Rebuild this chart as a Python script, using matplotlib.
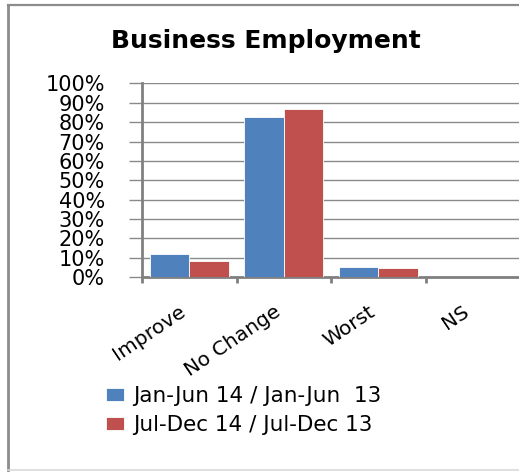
import matplotlib
matplotlib.use("Agg")
import matplotlib.pyplot as plt
import numpy as np
from matplotlib.lines import Line2D
from matplotlib.ticker import FuncFormatter

categories = ["Improve", "No Change", "Worst", "NS"]
series_names = ["Jan-Jun 14 / Jan-Jun  13", "Jul-Dec 14 / Jul-Dec 13"]
jan_jun = [0.12, 0.825, 0.052, 0.0]
jul_dec = [0.085, 0.867, 0.045, 0.0]
colors = ["#4F81BD", "#C0504D"]
yticks = [i / 10 for i in range(11)]

W, H = 519, 472
PX = 72 / 100  # points per pixel
fig = plt.figure(figsize=(W / 100, H / 100), dpi=100)
fig.patch.set_facecolor("white")

# outer chart frame (left, top, bottom)
fig.lines.append(Line2D([8 / W, 8 / W], [2 / H, 1 - 5 / H], transform=fig.transFigure,
                        color="#8c8c8c", linewidth=2.0))
fig.lines.append(Line2D([8 / W, 1.0], [1 - 5 / H, 1 - 5 / H], transform=fig.transFigure,
                        color="#8c8c8c", linewidth=1.6))
fig.lines.append(Line2D([8 / W, 1.0], [2 / H, 2 / H], transform=fig.transFigure,
                        color="#d9d9d9", linewidth=1.2))

ax = fig.add_axes([142 / W, 1 - 277 / H, 378 / W, (277 - 83.5) / H])
x = np.arange(len(categories))
bw = 0.42
ax.bar(x - bw / 2, jan_jun, bw, color=colors[0], edgecolor="white", linewidth=0.6,
       label=series_names[0], zorder=3)
ax.bar(x + bw / 2, jul_dec, bw, color=colors[1], edgecolor="white", linewidth=0.6,
       label=series_names[1], zorder=3)

ax.set_xlim(-0.5, len(categories) - 0.5)
ax.set_ylim(0, 1)
ax.set_yticks(yticks)
ax.yaxis.set_major_formatter(FuncFormatter(lambda v, p: f"{v * 100:.0f}%"))
ax.yaxis.grid(True, color="#8a8a8a", linewidth=1.0, zorder=0)
ax.set_axisbelow(True)

# category boundary ticks
ax.set_xticks(np.arange(len(categories) + 1) - 0.5, minor=False)
ax.set_xticklabels([])
ax.tick_params(axis="x", which="major", length=6 * PX, width=2, color="#808080", direction="out")
ax.set_xticks(x, minor=True)
ax.set_xticklabels(categories, minor=True, rotation=34, ha="right", va="top",
                   rotation_mode="default", fontsize=14.5, family="DejaVu Sans")
ax.tick_params(axis="x", which="minor", length=0, pad=25 * PX)

ax.tick_params(axis="y", length=13 * PX, width=1, color="#8a8a8a", labelsize=15, pad=24 * PX)
for lab in ax.get_yticklabels():
    lab.set_family("DejaVu Sans")

for s in ["top", "right"]:
    ax.spines[s].set_visible(False)
ax.spines["left"].set_color("#808080")
ax.spines["left"].set_linewidth(2)
ax.spines["bottom"].set_color("#808080")
ax.spines["bottom"].set_linewidth(2)

fig.text(266 / W, 1 - 41 / H, "Business Employment", ha="center", va="center",
         fontsize=18, fontweight="bold", family="DejaVu Sans")

handles, labels = ax.get_legend_handles_labels()
leg = fig.legend(handles, labels, loc="upper left", bbox_to_anchor=(106 / W, 1 - 386 / H),
                 frameon=False, fontsize=15.5, handlelength=0.85, handleheight=0.55,
                 handletextpad=0.4, labelspacing=0.42, borderaxespad=0, borderpad=0)

fig.savefig("out.png", dpi=100)
